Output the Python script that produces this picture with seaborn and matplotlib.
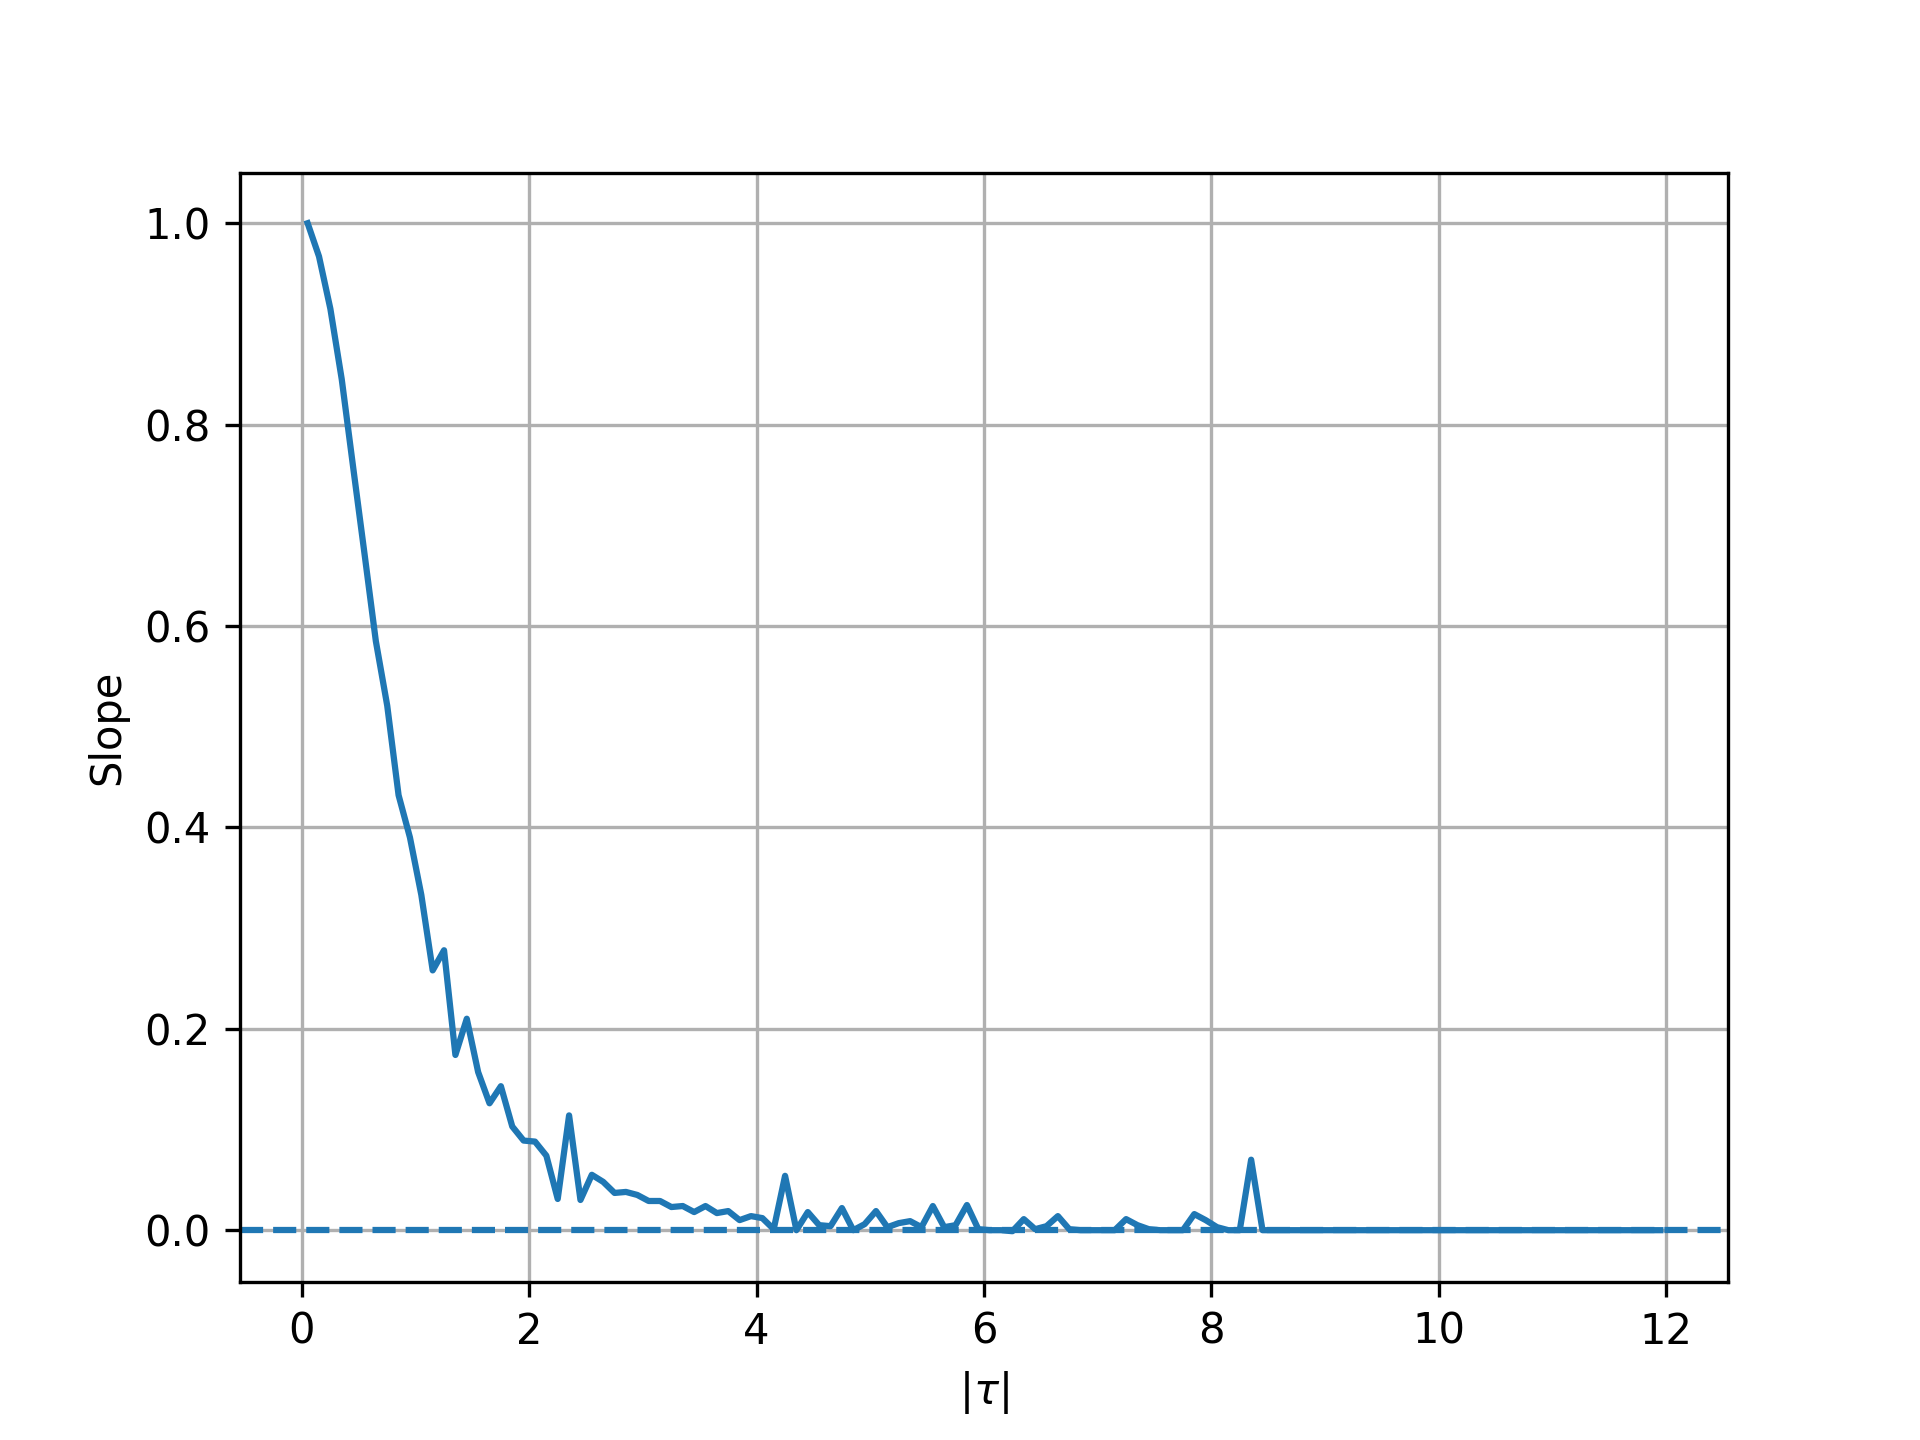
import numpy as np
import matplotlib
matplotlib.use('Agg')
import matplotlib.pyplot as plt
import seaborn as sns

# |tau| sampling grid (bin centres, step 0.1)
tau = np.round(np.arange(0.05, 12.0, 0.1), 2)

# slope values, one per tau
slope_head = [1.0, 0.967, 0.915, 0.845, 0.758, 0.672, 0.585, 0.521, 0.432, 0.390,
              0.333, 0.258, 0.278, 0.174, 0.210, 0.157, 0.126, 0.143, 0.103, 0.089,
              0.088, 0.074, 0.031, 0.114, 0.030, 0.055, 0.048, 0.037, 0.038, 0.035,
              0.029, 0.029, 0.023, 0.024, 0.018, 0.024, 0.017, 0.019, 0.010, 0.014,
              0.012, 0.001, 0.054, 0.0, 0.018, 0.005, 0.004, 0.022, 0.0, 0.006,
              0.019, 0.003, 0.007, 0.009, 0.003, 0.024, 0.003, 0.005, 0.025, 0.001,
              0.0, 0.0, -0.001, 0.011, 0.001, 0.004, 0.014, 0.001, 0.0, 0.0,
              0.0, 0.0, 0.011, 0.005, 0.001, 0.0, 0.0, 0.0, 0.016, 0.010,
              0.003, 0.0, 0.0, 0.070, 0.0]
slope_tail = [0.0, 0.0, 0.0, 0.0, 0.0, 0.0, 0.0, 0.0, 0.0, 0.0,
              0.0, 0.0, 0.0, 0.0, 0.0, 0.0, 0.0, 0.0, 0.0, 0.0,
              0.0, 0.0, 0.0, 0.0, 0.0, 0.0, 0.0, 0.0, 0.0, 0.0,
              0.0, 0.0, 0.0, 0.0, 0.0]
slope = slope_head + slope_tail

x_label = r'$|\tau|$'
y_label = 'Slope'

fig, ax = plt.subplots(figsize=(6.4, 4.8), dpi=300)
sns.lineplot(x=tau, y=slope, ax=ax, color='C0', linewidth=1.5)
ax.axhline(0, linestyle='--', color='C0', linewidth=1.5)

ax.set_xlabel(x_label)
ax.set_ylabel(y_label)
ax.grid(True)

fig.savefig('out.png', dpi=300)
